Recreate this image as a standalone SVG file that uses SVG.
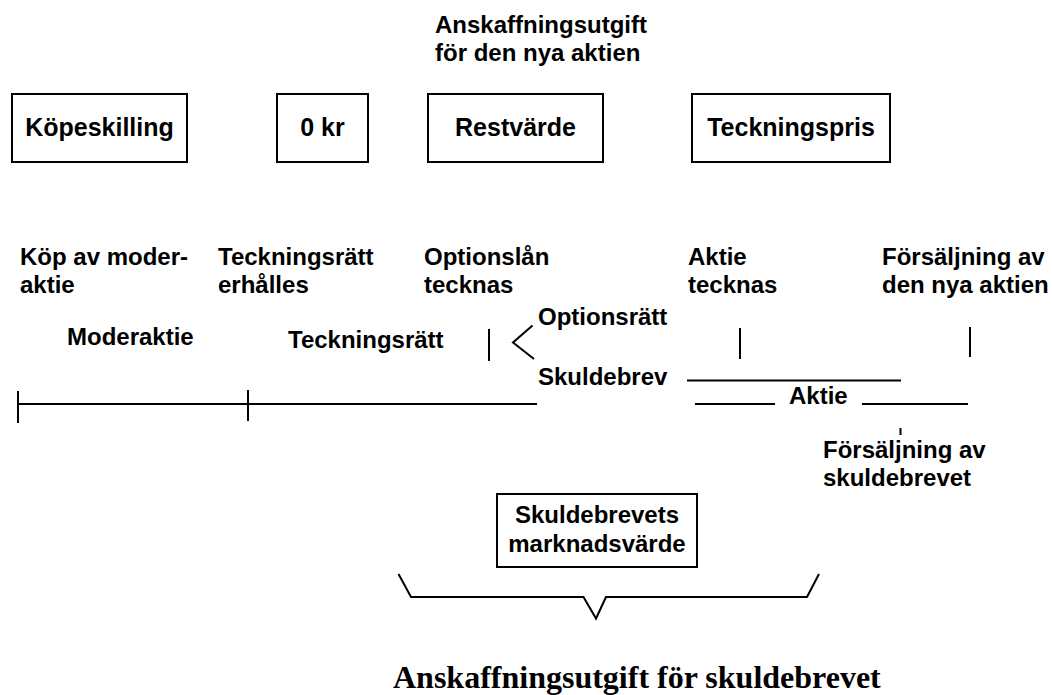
<svg xmlns="http://www.w3.org/2000/svg" width="1052" height="695" viewBox="0 0 1052 695">
<style>
.box{fill:#fff;stroke:#000;stroke-width:2}
.t{font-family:"Liberation Sans",Arial,sans-serif;font-weight:bold;font-size:24px;fill:#000}
.bt{font-family:"Liberation Sans",Arial,sans-serif;font-weight:bold;font-size:25px;fill:#000;text-anchor:middle}
.ln{stroke:#000;stroke-width:2;fill:none}
.ser{font-family:"Liberation Serif","Times New Roman",serif;font-weight:bold;font-size:32px;fill:#000}
</style>
<rect width="1052" height="695" fill="#fff"/>
<g id="heading">
<text class="t" x="435" y="33">Anskaffningsutgift</text>
<text class="t" x="435" y="61">för den nya aktien</text>
</g>
<g id="kopeskilling"><rect class="box" x="12" y="94" width="175" height="68"/><text class="bt" x="99.5" y="136">Köpeskilling</text></g>
<g id="nollkr"><rect class="box" x="277" y="94" width="91" height="68"/><text class="bt" x="322.5" y="136">0 kr</text></g>
<g id="restvarde"><rect class="box" x="428" y="94" width="175" height="68"/><text class="bt" x="515.5" y="136">Restvärde</text></g>
<g id="teckningspris"><rect class="box" x="692" y="94" width="198" height="68"/><text class="bt" x="791" y="136">Teckningspris</text></g>
<g id="events">
<text class="t" x="20" y="265">Köp av moder-</text><text class="t" x="20" y="293">aktie</text>
<text class="t" x="218" y="265">Teckningsrätt</text><text class="t" x="218" y="293">erhålles</text>
<text class="t" x="424" y="265">Optionslån</text><text class="t" x="424" y="293">tecknas</text>
<text class="t" x="688" y="265">Aktie</text><text class="t" x="688" y="293">tecknas</text>
<text class="t" x="882" y="265">Försäljning av</text><text class="t" x="882" y="293">den nya aktien</text>
</g>
<g id="periods">
<text class="t" x="67" y="345">Moderaktie</text>
<text class="t" x="288" y="348">Teckningsrätt</text>
<text class="t" x="538" y="325">Optionsrätt</text>
<text class="t" x="538" y="385">Skuldebrev</text>
<text class="t" x="789" y="404">Aktie</text>
<text class="t" x="823" y="458">Försäljning av</text>
<text class="t" x="823" y="486">skuldebrevet</text>
</g>
<g id="connectors">
<line class="ln" x1="18" y1="404" x2="537" y2="404"/>
<line class="ln" x1="18" y1="391" x2="18" y2="423"/>
<line class="ln" x1="248" y1="390" x2="248" y2="421"/>
<line class="ln" x1="489" y1="329" x2="489" y2="361"/>
<polyline class="ln" stroke-width="1.5" points="532.5,325.5 513,342.5 534,359"/>
<line class="ln" x1="740" y1="328" x2="740" y2="359"/>
<line class="ln" x1="970" y1="327" x2="970" y2="357"/>
<line class="ln" x1="687" y1="380.5" x2="901" y2="380.5"/>
<line class="ln" x1="695" y1="404" x2="775" y2="404"/>
<line class="ln" x1="862" y1="404" x2="968" y2="404"/>
<line class="ln" x1="900.5" y1="428" x2="900.5" y2="435"/>
<polyline class="ln" points="398.5,574 411,597 583.5,597 596,618.5 606,597 807,597 819,574"/>
</g>
<g id="marknadsvarde"><rect class="box" x="497" y="494" width="200" height="73"/><text class="t" x="597" y="523" text-anchor="middle">Skuldebrevets</text><text class="t" x="597" y="552" text-anchor="middle">marknadsvärde</text></g>
<g id="footer"><text class="ser" x="393" y="688">Anskaffningsutgift för skuldebrevet</text></g>
</svg>
